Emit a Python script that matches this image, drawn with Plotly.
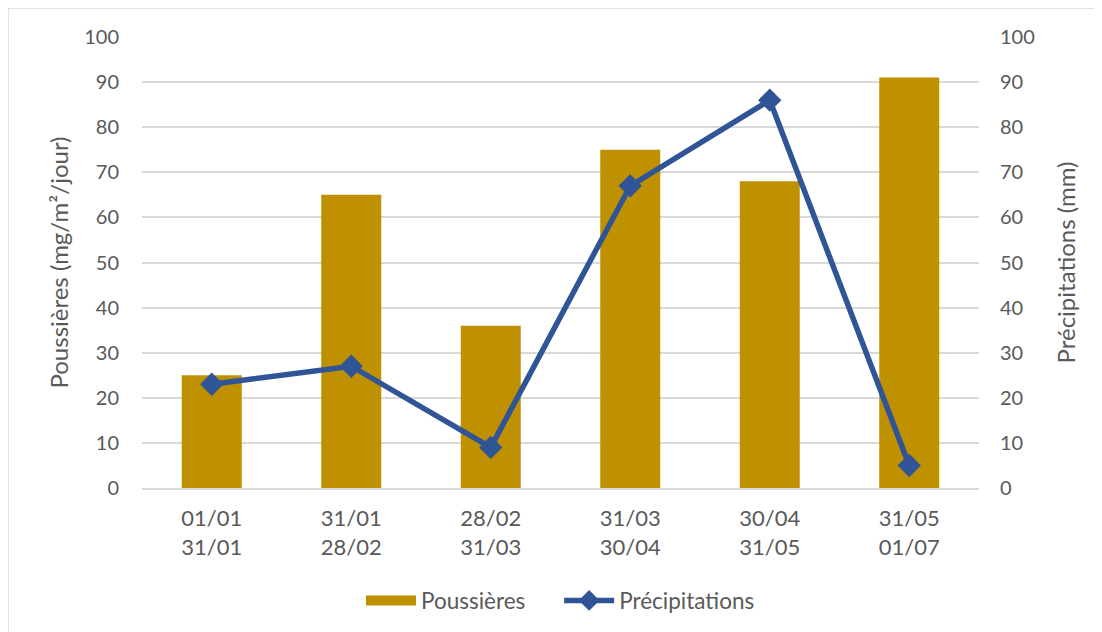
import plotly.graph_objects as go

categories = ["01/01<br>31/01", "31/01<br>28/02", "28/02<br>31/03", "31/03<br>30/04", "30/04<br>31/05", "31/05<br>01/07"]
poussieres = [25, 65, 36, 75, 68, 91]
precipitations = [23, 27, 9, 67, 86, 5]
tick_vals = [0, 10, 20, 30, 40, 50, 60, 70, 80, 90, 100]

FONT = "Lato"
TXT = "#595959"
GOLD = "#BF9000"
BLUE = "#2F5597"
NB = "\u00a0"

W, H = 1102, 632
L, T, PW, PH = 134, 29, 837, 451
R = W - L - PW
B = H - T - PH

fig = go.Figure()
fig.add_trace(go.Bar(
    x=categories, y=poussieres, name="Poussières",
    marker=dict(color=GOLD, line=dict(width=0)), width=0.43,
    yaxis="y", showlegend=False))
# legend proxy for the bar series (wide swatch)
fig.add_trace(go.Scatter(
    x=[None], y=[None], name="Poussières" + NB * 5, mode="lines",
    line=dict(color=GOLD, width=14), yaxis="y", showlegend=True))
fig.add_trace(go.Scatter(
    x=categories, y=precipitations, name="Précipitations",
    mode="lines+markers",
    line=dict(color=BLUE, width=5.5),
    marker=dict(symbol="diamond", size=18, color=BLUE),
    yaxis="y2"))

fig.update_layout(
    width=W, height=H,
    paper_bgcolor="white", plot_bgcolor="white",
    margin=dict(l=L, r=R, t=T, b=B),
    font=dict(family=FONT, size=20, color=TXT),
    xaxis=dict(showline=True, linecolor="#D9D9D9", linewidth=1.5,
               tickfont=dict(size=22, color=TXT), ticks="", showgrid=False,
               automargin=False, ticklabelstandoff=10),
    yaxis=dict(range=[0, 100], tickvals=tick_vals, showgrid=True,
               gridcolor="#D9D9D9", gridwidth=1.5, zeroline=False,
               title=dict(text="Poussières (mg/m²/jour)", font=dict(size=24, color=TXT), standoff=8),
               ticks="", tickfont=dict(size=20, color=TXT), automargin=False,
               ticklabelstandoff=22),
    yaxis2=dict(range=[0, 100], tickvals=tick_vals, overlaying="y", side="right",
                showgrid=False, zeroline=False,
                title=dict(text="Précipitations (mm)", font=dict(size=24, color=TXT), standoff=24),
                ticks="", tickfont=dict(size=20, color=TXT), automargin=False,
                ticklabelstandoff=20),
    legend=dict(orientation="h", x=0.5, xanchor="center", y=-0.25, yanchor="middle",
                font=dict(size=22.5, color=TXT), itemwidth=50),
    shapes=[dict(type="rect", xref="paper", yref="paper",
                 x0=-L / PW, x1=1 + R / PW, y0=-B / PH, y1=1 + T / PH,
                 line=dict(color="#D9D9D9", width=1.5))],
)

fig.write_html("out.html")
